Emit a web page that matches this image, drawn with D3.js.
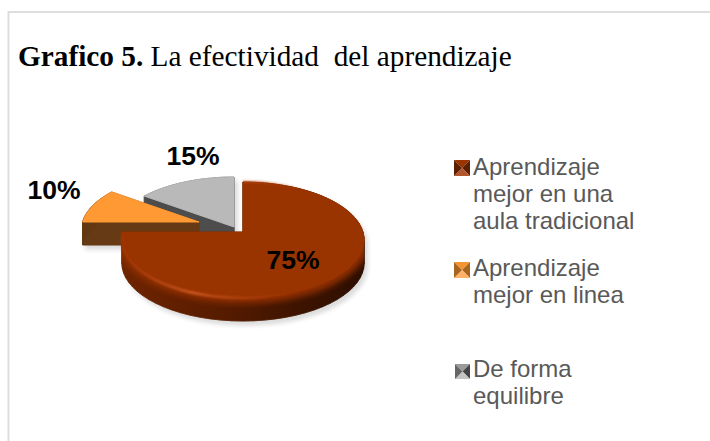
<!DOCTYPE html>
<html lang="es">
<head>
<meta charset="UTF-8">
<title>Grafico 5</title>
<script src="https://d3js.org/d3.v7.min.js"></script>
<style>
  html, body { margin: 0; padding: 0; background: #fff; }
  svg { display: block; }
</style>
</head>
<body>
<script>
// DATA
var categories = [
    ["Aprendizaje", "mejor en una", "aula tradicional"],
    ["Aprendizaje", "mejor en linea"],
    ["De forma", "equilibre"]
];
var values = [75, 10, 15];
var valueLabels = ["75%", "10%", "15%"];

var width = 710, height = 441;

var svg = d3.select("body").append("svg")
    .attr("width", width)
    .attr("height", height);

var defs = svg.append("defs");

function blur(id, dev) {
    defs.append("filter").attr("id", id)
        .attr("x", "-20%").attr("y", "-20%").attr("width", "140%").attr("height", "140%")
        .append("feGaussianBlur").attr("stdDeviation", dev);
}
blur("soft", 2);
blur("soft1", 1.2);
blur("band", 3);

function hGradient(id, x1, x2, stops) {
    var g = defs.append("linearGradient").attr("id", id)
        .attr("gradientUnits", "userSpaceOnUse")
        .attr("x1", x1).attr("x2", x2).attr("y1", 0).attr("y2", 0);
    stops.forEach(function(s) {
        g.append("stop").attr("offset", s[0]).attr("stop-color", s[1]).attr("stop-opacity", s[2] === undefined ? 1 : s[2]);
    });
}
hGradient("wallGrad", 123, 365, [[0, "#6e2400"], [0.4, "#571c00"], [0.7, "#3f1400"], [1, "#2c0e00"]]);
hGradient("rimGrad", 123, 365, [[0, "#a83a08", 0.6], [0.28, "#d05c26", 1], [0.55, "#b0400e", 0.7], [0.75, "#983000", 0]]);

// FRAME
svg.append("path")
    .attr("d", "M8.5,441V12H710")
    .attr("fill", "none")
    .attr("stroke", "#dedede")
    .attr("stroke-width", 2);

// TITLE
var title = svg.append("text")
    .attr("x", 18).attr("y", 66)
    .attr("font-family", "'Liberation Serif', serif")
    .attr("font-size", 29.3)
    .attr("fill", "#000")
    .attr("xml:space", "preserve");
title.append("tspan").attr("font-weight", "bold").text("Grafico 5.");
title.append("tspan").text(" La efectividad  del aprendizaje");

// PIE: tilted disc, drawn through a projective map of the unit circle
var cx = 243, cy = 232;
var radiusX = 120, radiusY = 56.9, tilt = 0.138, depth = 23;

// how each slice is pulled out of the disc
var explode = [
    {dx: 0, dy: 0, k: 1, fill: "#993300", wall: "url(#wallGrad)"},
    {dx: -44, dy: -10, k: 0.97, fill: "#ff9933", wall: "#663a14"},
    {dx: -9, dy: -5, k: 1, fill: "#b9b9b9", wall: "#4d4d4d"}
];

var slices = d3.pie().sort(null)(values);

function project(r, a, s) {
    var x = Math.sin(a) * r * s.k, y = -Math.cos(a) * r * s.k;
    var d = 1 - tilt * y;
    return [cx + s.dx + radiusX * x / d, cy + s.dy + radiusY * y / d];
}

function rimPoints(d, s) {
    var scale = d3.scaleLinear().domain([0, 60]).range([d.startAngle, d.endAngle]);
    return d3.range(61).map(function(i) { return project(1, scale(i), s); });
}

function outline(d, s) {
    return [project(0, 0, s)].concat(rimPoints(d, s));
}

var line = d3.line();

// same winding everywhere so the pieces of a wall never cancel each other
function wound(pts) {
    return d3.polygonArea(pts) < 0 ? pts.slice().reverse() : pts;
}

function closed(pts, dy) {
    return line(wound(pts.map(function(p) { return [p[0], p[1] + (dy || 0)]; }))) + "Z";
}

// side wall = the outline swept straight down
function sweep(pts, h) {
    var out = closed(pts, h);
    pts.forEach(function(p, i) {
        var q = pts[(i + 1) % pts.length];
        out += closed([p, q, [q[0], q[1] + h], [p[0], p[1] + h]]);
    });
    return out;
}

// soft shadows under everything
var shadow = svg.append("g").attr("filter", "url(#soft)");
slices.forEach(function(d, i) {
    var pts = outline(d, explode[i]);
    shadow.append("path")
        .attr("d", sweep(pts, depth))
        .attr("transform", "translate(3,4)")
        .attr("fill", "#dcdcdc")
        .attr("stroke", "#dcdcdc");
});

// back to front: gray, orange, maroon
[2, 1, 0].forEach(function(i) {
    var d = slices[i], s = explode[i], pts = outline(d, s);
    var g = svg.append("g");
    g.append("path")
        .attr("d", sweep(pts, depth))
        .attr("fill", s.wall)
        .attr("stroke", s.wall)
        .attr("stroke-width", 0.6)
        .attr("stroke-linejoin", "round");
    if (i === 0) {
        defs.append("clipPath").attr("id", "wallClip")
            .append("path").attr("d", sweep(pts, depth));
        // glow from the top edge down the wall
        g.append("g").attr("clip-path", "url(#wallClip)")
            .append("path")
            .attr("d", line(rimPoints(d, s)))
            .attr("fill", "none")
            .attr("stroke", "#8f2e00")
            .attr("stroke-width", 11)
            .attr("filter", "url(#band)");
    }
    g.append("path")
        .attr("d", closed(pts))
        .attr("fill", s.fill)
        .attr("stroke", s.fill)
        .attr("stroke-width", 1)
        .attr("stroke-linejoin", "round");
    if (i === 0) {
        g.append("path")
            .attr("d", line(rimPoints(d, s)))
            .attr("fill", "none")
            .attr("stroke", "url(#rimGrad)")
            .attr("stroke-width", 2.4)
            .attr("filter", "url(#soft1)");
    }
});

// VALUE LABELS
var labelPos = [[293, 269], [54, 199], [193, 165]];
svg.append("g").selectAll("text")
    .data(valueLabels)
    .enter().append("text")
    .attr("x", function(d, i) { return labelPos[i][0]; })
    .attr("y", function(d, i) { return labelPos[i][1]; })
    .attr("text-anchor", "middle")
    .attr("font-family", "'Liberation Sans', sans-serif")
    .attr("font-weight", "bold")
    .attr("font-size", 26.5)
    .attr("fill", "#000")
    .text(function(d) { return d; });

// LEGEND
var legendY = [175, 276, 377];
var keyShades = [
    ["#9c3400", "#5c1f00", "#b3562b", "#5c1f00"],
    ["#f59331", "#a8651f", "#ffb266", "#a8651f"],
    ["#9a9a9a", "#444444", "#c4c4c4", "#666666"]
];
var keyBox = [[454, 160, 16], [454, 262, 16], [455, 364, 15]];

var legend = svg.append("g").selectAll("g")
    .data(categories)
    .enter().append("g");

legend.each(function(d, i) {
    var g = d3.select(this), b = keyBox[i];
    var x0 = b[0], y0 = b[1], w = b[2], mx = x0 + w / 2, my = y0 + w / 2;
    var corners = [[x0, y0], [x0 + w, y0], [x0 + w, y0 + w], [x0, y0 + w]];
    corners.forEach(function(c, j) {
        var n = corners[(j + 1) % 4];
        g.append("path")
            .attr("d", line([c, n, [mx, my]]) + "Z")
            .attr("fill", keyShades[i][j]);
    });
    g.selectAll("text").data(d).enter().append("text")
        .attr("x", 473)
        .attr("y", function(t, j) { return legendY[i] + j * 27; })
        .attr("font-family", "'Liberation Sans', sans-serif")
        .attr("font-size", 24)
        .attr("fill", "#595959")
        .text(function(t) { return t; });
});
</script>
</body>
</html>
